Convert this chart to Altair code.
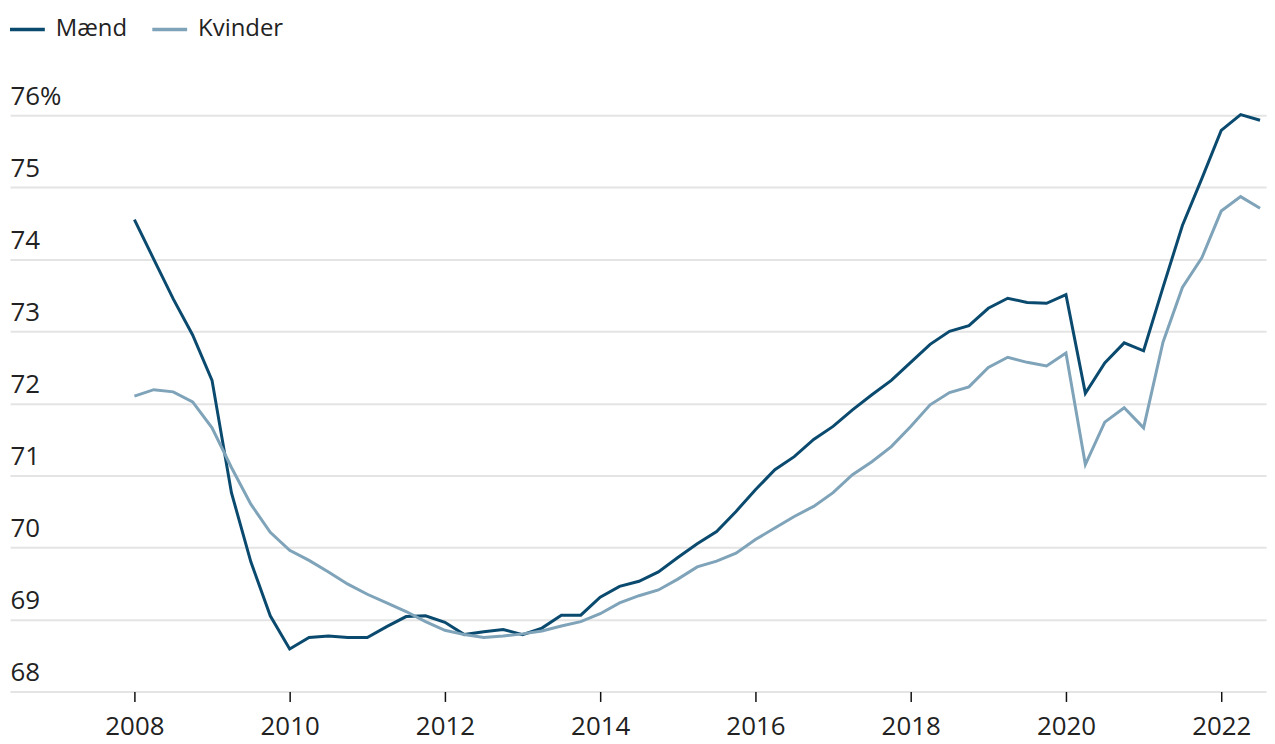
import altair as alt
import pandas as pd

start_year = 2008
maend = [74.55, 74.0, 73.45, 72.95, 72.32, 70.76, 69.80, 69.05, 68.59, 68.75,
         68.77, 68.75, 68.75, 68.90, 69.04, 69.05, 68.96, 68.79, 68.83, 68.86,
         68.79, 68.88, 69.06, 69.06, 69.31, 69.46, 69.53, 69.66, 69.86, 70.05,
         70.22, 70.50, 70.80, 71.08, 71.26, 71.50, 71.68, 71.91, 72.12, 72.32,
         72.57, 72.82, 73.00, 73.08, 73.32, 73.46, 73.40, 73.39, 73.51, 72.14,
         72.56, 72.84, 72.73, 73.61, 74.47, 75.12, 75.79, 76.01, 75.93]
kvinder = [72.10, 72.19, 72.16, 72.02, 71.66, 71.11, 70.60, 70.21, 69.96, 69.82,
           69.66, 69.49, 69.35, 69.23, 69.11, 68.97, 68.85, 68.79, 68.75, 68.77,
           68.80, 68.84, 68.91, 68.97, 69.08, 69.23, 69.33, 69.41, 69.56, 69.73,
           69.81, 69.92, 70.11, 70.27, 70.43, 70.57, 70.76, 71.01, 71.19, 71.40,
           71.68, 71.98, 72.15, 72.23, 72.50, 72.64, 72.57, 72.52, 72.70, 71.15,
           71.74, 71.94, 71.66, 72.85, 73.61, 74.02, 74.67, 74.87, 74.71]
series_names = ["Mænd", "Kvinder"]
series_colors = ["#0b4a6f", "#7fa3b9"]
x_ticks = [2008, 2010, 2012, 2014, 2016, 2018, 2020, 2022]
y_ticks = [68, 69, 70, 71, 72, 73, 74, 75, 76]

rows = []
for name, vals in zip(series_names, [maend, kvinder]):
    for i, v in enumerate(vals):
        rows.append({"t": start_year + i / 4, "v": v, "serie": name})
df = pd.DataFrame(rows)

FONT = "Open Sans"

chart = alt.Chart(df).mark_line(strokeWidth=3).encode(
    x=alt.X("t:Q",
            scale=alt.Scale(domain=[2006.3974, 2022.5769], nice=False, zero=False),
            axis=alt.Axis(values=x_ticks, format="d", title=None, grid=False,
                          domain=False, ticks=True, tickSize=10, tickWidth=1.5,
                          tickColor="#111111", labelPadding=12, labelFontSize=26,
                          labelFont=FONT, labelColor="#222222")),
    y=alt.Y("v:Q",
            scale=alt.Scale(domain=[68, 76.47], nice=False, zero=False),
            axis=alt.Axis(values=y_ticks, title=None, domain=False, ticks=False,
                          tickSize=0, grid=True, gridColor="#e4e4e4", gridWidth=2,
                          labelAlign="left", labelBaseline="alphabetic", labelOffset=-11,
                          labelPadding=0, labelFontSize=26, labelFont=FONT,
                          labelColor="#222222",
                          labelExpr="datum.value == 76 ? datum.label + '%' : datum.label")),
    color=alt.Color("serie:N",
                    scale=alt.Scale(domain=series_names, range=series_colors),
                    legend=alt.Legend(title=None, orient="none", legendX=-2, legendY=-72,
                                      direction="horizontal", symbolType="stroke",
                                      symbolSize=1225, symbolStrokeWidth=3.5,
                                      labelFontSize=24, labelFont=FONT,
                                      labelColor="#222222", labelOffset=9,
                                      columnPadding=18, padding=0)),
).properties(
    width=1262, height=613,
    autosize=alt.AutoSizeParams(type="none"),
    padding={"left": 2, "top": 72, "right": 1, "bottom": 51},
).configure_view(stroke=None)

chart.save("out.html", embed_options={"renderer": "svg", "actions": False})
